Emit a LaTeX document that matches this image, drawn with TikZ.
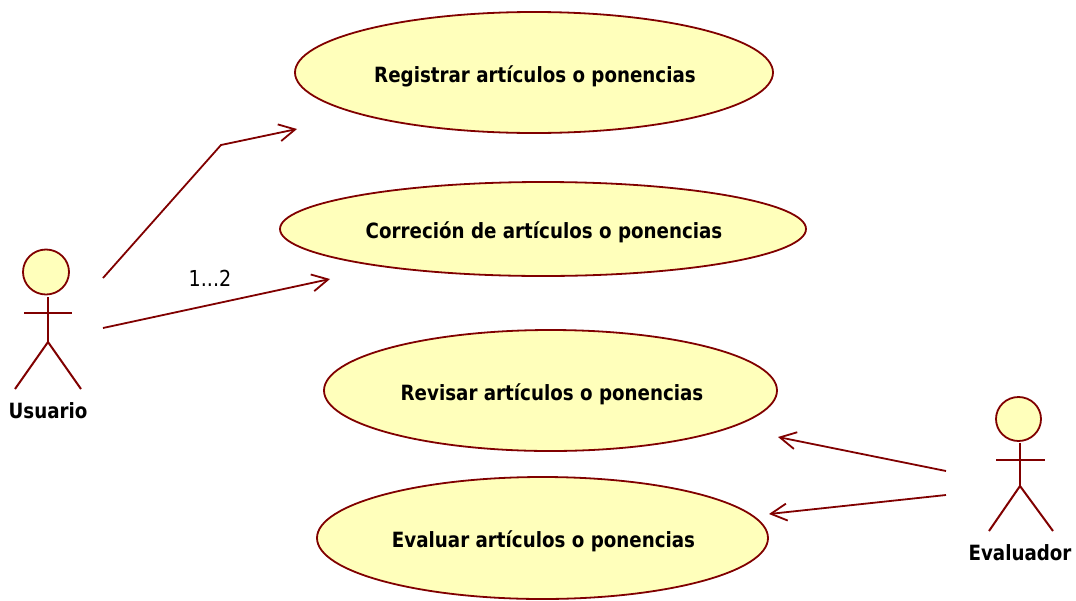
\documentclass[tikz,border=0pt]{standalone}
\usepackage{fontspec}
\setmainfont{DejaVu Sans}[FakeStretch=0.87]
\usetikzlibrary{shapes.geometric,arrows.meta}
\definecolor{umlline}{RGB}{128,0,0}
\definecolor{umlfill}{RGB}{255,255,187}
\begin{document}
\begin{tikzpicture}[x=1pt,y=-1pt,
    usecase/.style={draw=umlline,fill=umlfill,line width=1.8pt,ellipse,inner sep=0pt},
    usetext/.style={font=\bfseries\fontsize{21}{25}\selectfont},
    actorhead/.style={draw=umlline,fill=umlfill,line width=1.8pt,ellipse,inner sep=0pt},
    actorline/.style={draw=umlline,line width=2pt},
    actorname/.style={font=\bfseries\fontsize{21}{25}\selectfont},
    assoc/.style={draw=umlline,line width=1.8pt,-{Straight Barb[length=16pt,width=17pt,line width=1.8pt]}}]
    \useasboundingbox (0,0) rectangle (1076,600);
    \node[usecase,minimum width=478pt,minimum height=121pt] (registrar) at (534,72.5) {};
    \node[usecase,minimum width=526pt,minimum height=94pt] (correcion) at (543,229) {};
    \node[usecase,minimum width=453pt,minimum height=121pt] (revisar) at (550.5,390.5) {};
    \node[usecase,minimum width=451pt,minimum height=122pt] (evaluar) at (542.5,538) {};
    \node[usetext] (registrartext) at (535,76) {Registrar artículos o ponencias};
    \node[usetext] (correciontext) at (544,232.5) {Correción de artículos o ponencias};
    \node[usetext] (revisartext) at (552,394) {Revisar artículos o ponencias};
    \node[usetext] (evaluartext) at (543.5,541) {Evaluar artículos o ponencias};
    % usuario
    \node[actorhead,minimum width=46pt,minimum height=45pt] (usuariohead) at (46,272) {};
    \coordinate (usuarioneck) at (48,297);
    \coordinate (usuariohip) at (48,342);
    \coordinate (usuarioarml) at (24,313);
    \coordinate (usuarioarmr) at (72,313);
    \coordinate (usuariolegl) at (15,389);
    \coordinate (usuariolegr) at (81,389);
    \draw[actorline] (usuarioneck) -- (usuariohip);
    \draw[actorline] (usuarioarml) -- (usuarioarmr);
    \draw[actorline] (usuariolegl) -- (usuariohip) -- (usuariolegr);
    \node[actorname] (usuario) at (48,411) {Usuario};
    % evaluador
    \node[actorhead,minimum width=45pt,minimum height=44pt] (evaluadorhead) at (1018.5,419) {};
    \coordinate (evaluadorneck) at (1020,443);
    \coordinate (evaluadorhip) at (1020,486);
    \coordinate (evaluadorarml) at (996,460);
    \coordinate (evaluadorarmr) at (1045,460);
    \coordinate (evaluadorlegl) at (989,531);
    \coordinate (evaluadorlegr) at (1053,531);
    \draw[actorline] (evaluadorneck) -- (evaluadorhip);
    \draw[actorline] (evaluadorarml) -- (evaluadorarmr);
    \draw[actorline] (evaluadorlegl) -- (evaluadorhip) -- (evaluadorlegr);
    \node[actorname] (evaluador) at (1020,553) {Evaluador};
    % associations
    \coordinate (usuarioa) at (103,278);
    \coordinate (usuariob) at (103,328);
    \coordinate (bend) at (221,145);
    \coordinate (registrarend) at (297,129);
    \coordinate (correcionend) at (330,279);
    \coordinate (evaluadora) at (946,471);
    \coordinate (evaluadorb) at (946,495);
    \coordinate (revisarend) at (778,437);
    \coordinate (evaluarend) at (769,514);
    \draw[assoc] (usuarioa) -- (bend) -- (registrarend);
    \draw[assoc] (usuariob) -- (correcionend);
    \draw[assoc] (evaluadora) -- (revisarend);
    \draw[assoc] (evaluadorb) -- (evaluarend);
    \node[font=\fontsize{22}{26}\selectfont] (multiplicity) at (210,278) {1...2};
\end{tikzpicture}
\end{document}
